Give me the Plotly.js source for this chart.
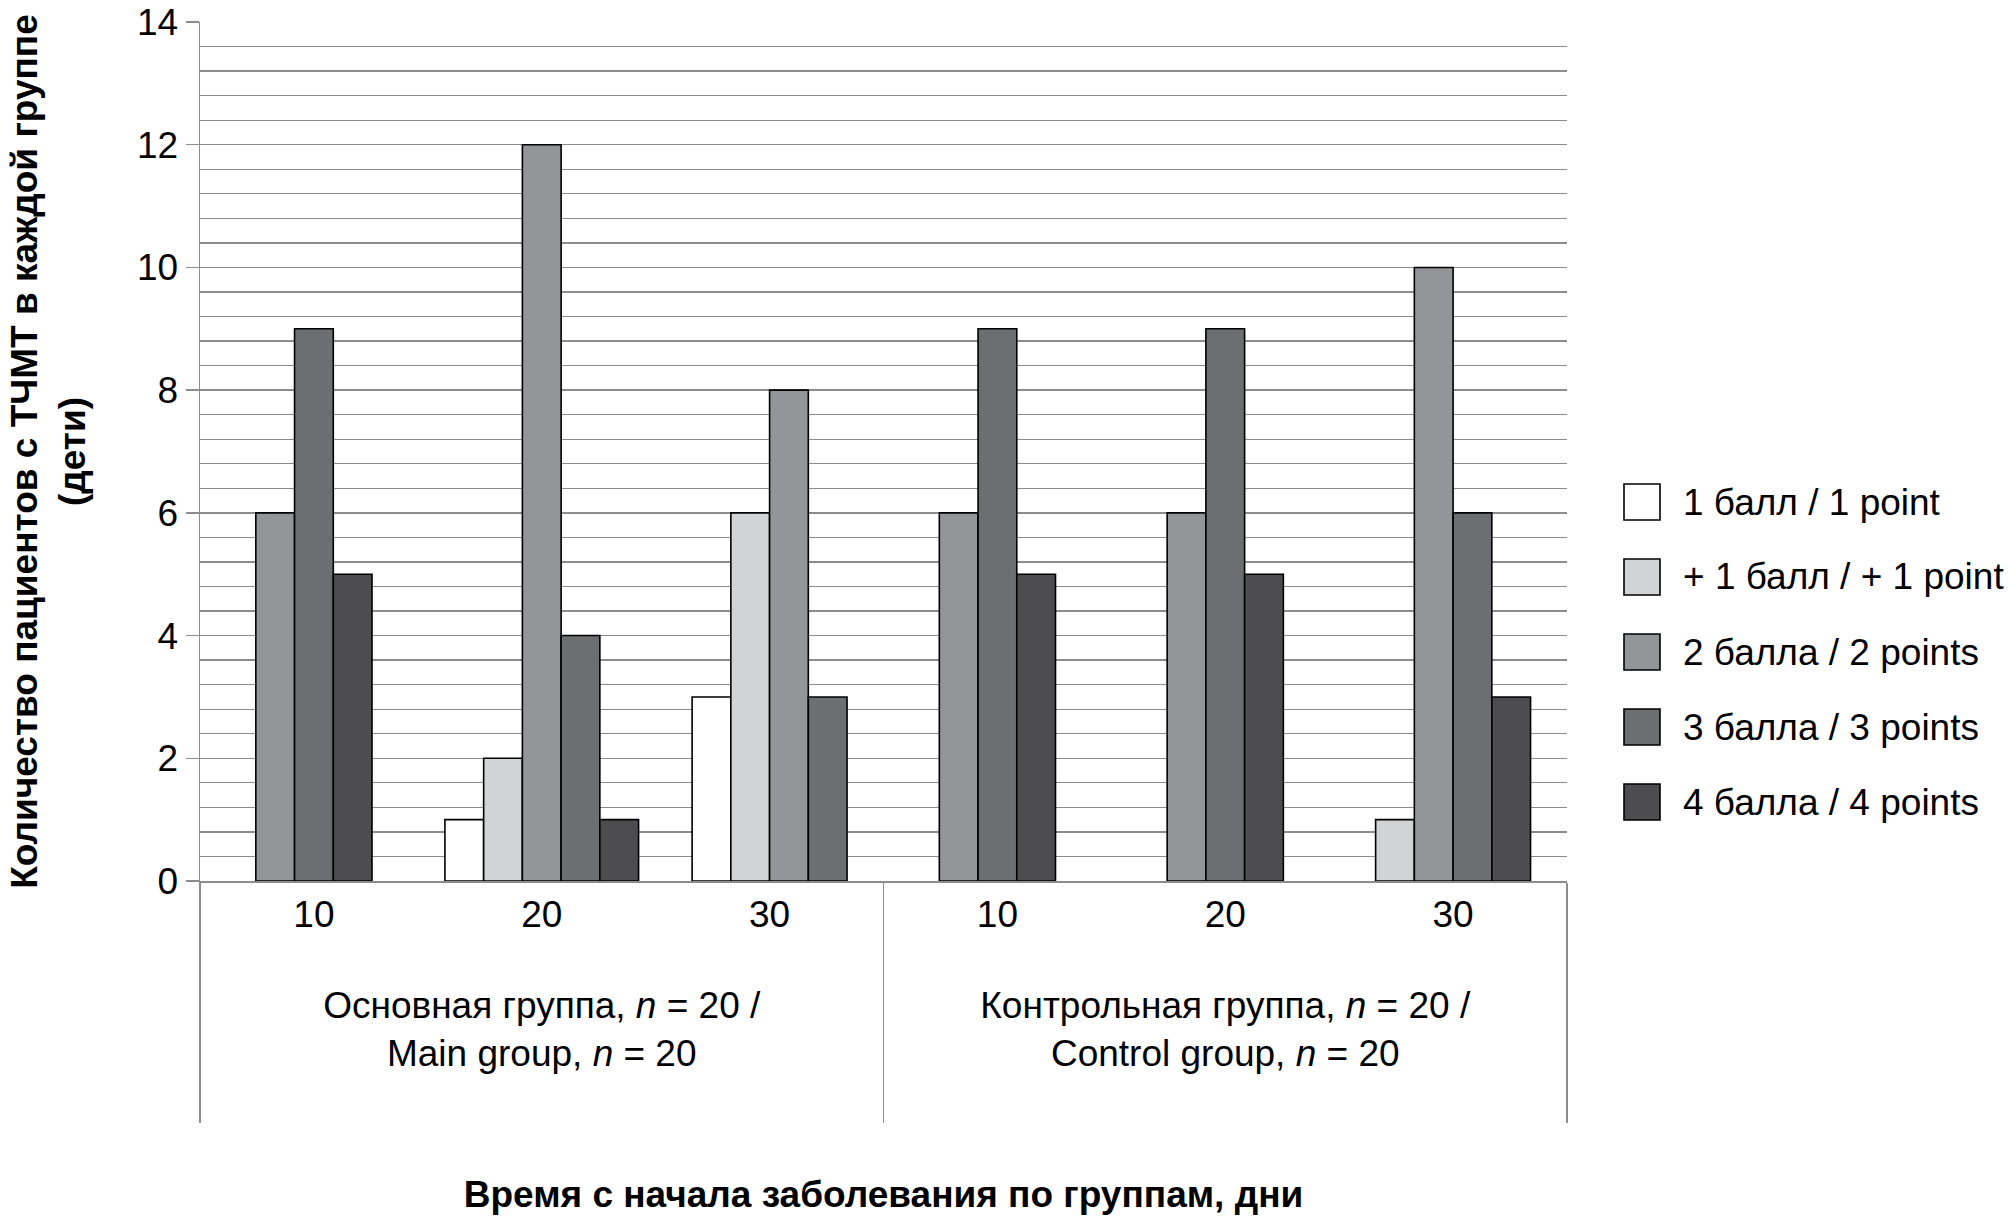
<!DOCTYPE html>
<html>
<head>
<meta charset="utf-8">
<script src="https://cdn.plot.ly/plotly-3.0.1.min.js"></script>
<style>
  html, body { margin: 0; padding: 0; background: #ffffff; }
  #chart { width: 2008px; height: 1221px; }
</style>
</head>
<body>
<div id="chart"></div>
<script>
// ---- data ----
const groupLabels = [
  "Основная группа, <i>n</i> = 20 /<br>Main group, <i>n</i> = 20",
  "Контрольная группа, <i>n</i> = 20 /<br>Control group, <i>n</i> = 20"
];
const dayLabels = ["10", "20", "30"];
const seriesNames = [
  "1 балл / 1 point",
  "+ 1 балл / + 1 point",
  "2 балла / 2 points",
  "3 балла / 3 points",
  "4 балла / 4 points"
];
// values per category: Main 10, 20, 30; Control 10, 20, 30
const point1     = [0, 1, 3, 0, 0, 0];
const plusPoint1 = [0, 2, 6, 0, 0, 1];
const points2    = [6, 12, 8, 6, 6, 10];
const points3    = [9, 4, 3, 9, 9, 6];
const points4    = [5, 1, 0, 5, 5, 3];
const yTitle = "Количество пациентов с ТЧМТ в каждой группе<br>(дети)";
const xTitle = "Время с начала заболевания по группам, дни";

// ---- styles ----
const seriesColors = ["#ffffff", "#d1d3d4", "#939598", "#6d6e71", "#4d4d4f"];
const FONT = "'Liberation Sans', Arial, Helvetica, sans-serif";
const FS = 37;
const GRID = "#8c8c8c";
const W = 2008, H = 1221;
const M = {l: 200, r: 441, t: 22, b: 340};
const plotW = W - M.l - M.r, plotH = H - M.t - M.b;
const BAR_W = 0.17;

const allSeries = [point1, plusPoint1, points2, points3, points4];

// multicategory x values (group label padded with an empty line above and below
// so the group text sits lower and the dividers run further down)
const outer = [], inner = [];
groupLabels.forEach(g => dayLabels.forEach(d => {
  outer.push("&nbsp;<br>" + g + "<br>&nbsp;");
  inner.push(d);
}));
const nCat = outer.length;

// offsets: only non-zero bars in each category, centred on the category
const offsets = allSeries.map(() => new Array(nCat).fill(0));
for (let c = 0; c < nCat; c++) {
  const present = [];
  allSeries.forEach((s, i) => { if (s[c] > 0) present.push(i); });
  const k = present.length;
  present.forEach((i, j) => { offsets[i][c] = -k * BAR_W / 2 + j * BAR_W; });
}

const traces = allSeries.map((s, i) => ({
  type: "bar",
  name: seriesNames[i],
  x: [outer, inner],
  y: s.map(v => v > 0 ? v : null),
  width: BAR_W,
  offset: offsets[i],
  marker: { color: seriesColors[i], line: { color: "#000000", width: 1.6 } },
  showlegend: false,
  hoverinfo: "skip"
}));

// custom legend with large square keys
const LEG = { boxLeft: 1624, boxSize: 36, firstTop: 484, step: 75, textLeft: 1681 };
const px2x = px => (px - M.l) / plotW;
const py2y = py => (H - M.b - py) / plotH;
const shapes = [], annotations = [];
seriesNames.forEach((name, i) => {
  const top = LEG.firstTop + i * LEG.step;
  shapes.push({
    type: "rect", xref: "paper", yref: "paper",
    x0: px2x(LEG.boxLeft), x1: px2x(LEG.boxLeft + LEG.boxSize),
    y0: py2y(top + LEG.boxSize), y1: py2y(top),
    fillcolor: seriesColors[i], line: { color: "#000000", width: 1.6 }
  });
  annotations.push({
    xref: "paper", yref: "paper",
    x: px2x(LEG.textLeft), y: py2y(top + LEG.boxSize / 2),
    xanchor: "left", yanchor: "middle", showarrow: false,
    text: name, font: { family: FONT, size: FS, color: "#000000" }
  });
});

const layout = {
  width: W, height: H,
  margin: M,
  paper_bgcolor: "#ffffff",
  plot_bgcolor: "#ffffff",
  barmode: "overlay",
  showlegend: false,
  font: { family: FONT, size: FS, color: "#000000" },
  xaxis: {
    type: "multicategory",
    showline: true, linecolor: GRID, linewidth: 1.5,
    ticks: "",
    showgrid: false,
    showdividers: true, dividercolor: GRID, dividerwidth: 1.5,
    tickfont: { family: FONT, size: FS, color: "#000000" },
    title: { text: xTitle, font: { family: FONT, size: FS, color: "#000000", weight: 700 }, standoff: 60 }
  },
  yaxis: {
    range: [0, 14], tick0: 0, dtick: 2,
    showline: true, linecolor: GRID, linewidth: 1.5,
    ticks: "outside", ticklen: 13, tickcolor: GRID, tickwidth: 1.5,
    showgrid: true, gridcolor: GRID, gridwidth: 1.3,
    minor: { dtick: 0.4, showgrid: true, gridcolor: GRID, gridwidth: 1.3, ticks: "" },
    zeroline: false,
    tickfont: { family: FONT, size: FS, color: "#000000" },
    title: { text: yTitle, font: { family: FONT, size: FS, color: "#000000", weight: 700 }, standoff: 40 }
  },
  shapes: shapes,
  annotations: annotations
};

Plotly.newPlot("chart", traces, layout, { displayModeBar: false, staticPlot: true });
</script>
</body>
</html>
